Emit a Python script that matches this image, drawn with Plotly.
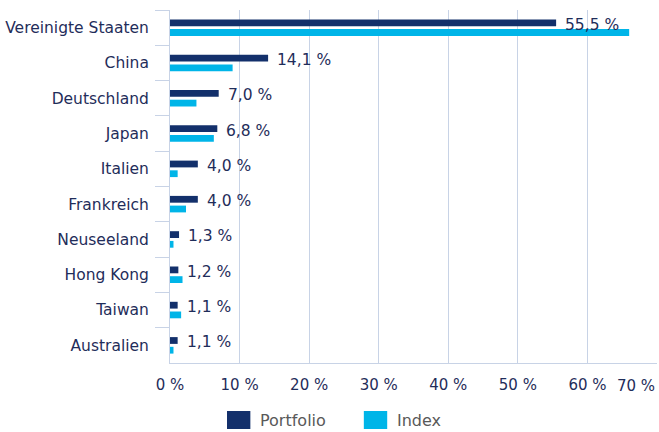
import plotly.graph_objects as go

countries = ["Vereinigte Staaten", "China", "Deutschland", "Japan", "Italien",
             "Frankreich", "Neuseeland", "Hong Kong", "Taiwan", "Australien"]
portfolio = [55.5, 14.1, 7.0, 6.8, 4.0, 4.0, 1.3, 1.2, 1.1, 1.1]
index_w = [66.0, 9.0, 3.8, 6.3, 1.1, 2.3, 0.5, 1.8, 1.6, 0.5]
x_ticks = [0, 10, 20, 30, 40, 50, 60, 70]
series_names = ["Portfolio", "Index"]

NAVY = "#13306b"
CYAN = "#00b5e8"
TEXT = "#1f2d5a"
GRID = "#c8d3e6"
FONT = "DejaVu Sans"

fig = go.Figure()
fig.add_trace(go.Bar(y=countries, x=portfolio, orientation="h", name=series_names[0],
                     marker=dict(color=NAVY, line=dict(width=0)), showlegend=False))
fig.add_trace(go.Bar(y=countries, x=index_w, orientation="h", name=series_names[1],
                     marker=dict(color=CYAN, line=dict(width=0)), showlegend=False))

annotations = []
for c, v in zip(countries, portfolio):
    annotations.append(dict(x=v, y=c, xref="x", yref="y", text=f"{v:.1f} %".replace(".", ","),
                            showarrow=False, xanchor="left", yanchor="middle", xshift=7, yshift=3,
                            font=dict(family=FONT, size=15.5, color=TEXT)))
# last tick label kept inside the canvas
annotations.append(dict(x=x_ticks[-1], y=0, xref="x", yref="paper", text=f"{x_ticks[-1]} %",
                        showarrow=False, xanchor="right", yanchor="middle", yshift=-23,
                        font=dict(family=FONT, size=15, color=TEXT)))

# legend drawn as swatches + labels below the plot
shapes = []
legend_items = [(series_names[0], NAVY, 0.117, 0.180), (series_names[1], CYAN, 0.398, 0.462)]
for name, col, sx, tx in legend_items:
    shapes.append(dict(type="rect", xref="paper", yref="paper", x0=sx, x1=sx + 0.048,
                       y0=-0.187, y1=-0.136, fillcolor=col, line=dict(width=0)))
    annotations.append(dict(x=tx, y=-0.164, xref="paper", yref="paper", text=name,
                            showarrow=False, xanchor="left", yanchor="middle",
                            font=dict(family=FONT, size=16, color="#595959")))

fig.update_layout(
    width=659, height=432,
    margin=dict(l=170, r=2, t=10, b=69),
    paper_bgcolor="white", plot_bgcolor="white",
    barmode="group", bargap=0.45, bargroupgap=0.3,
    font=dict(family=FONT, size=14, color=TEXT),
    annotations=annotations, shapes=shapes,
    showlegend=False,
)
fig.update_xaxes(range=[0, 70], tickvals=x_ticks,
                 ticktext=[f"{t} %" for t in x_ticks[:-1]] + [""],
                 showgrid=True, gridcolor=GRID, gridwidth=1,
                 showline=True, linecolor=GRID, linewidth=1, zeroline=False,
                 ticks="", ticklabelstandoff=8,
                 tickfont=dict(family=FONT, size=15, color=TEXT), automargin=False)
fig.update_yaxes(categoryorder="array", categoryarray=countries, autorange="reversed",
                 showline=True, linecolor=GRID, linewidth=1,
                 ticks="outside", ticklen=14, tickwidth=1, tickcolor=GRID, tickson="boundaries",
                 ticklabelstandoff=17,
                 tickfont=dict(family=FONT, size=15.5, color=TEXT), automargin=False)

fig.write_html("out.html")
